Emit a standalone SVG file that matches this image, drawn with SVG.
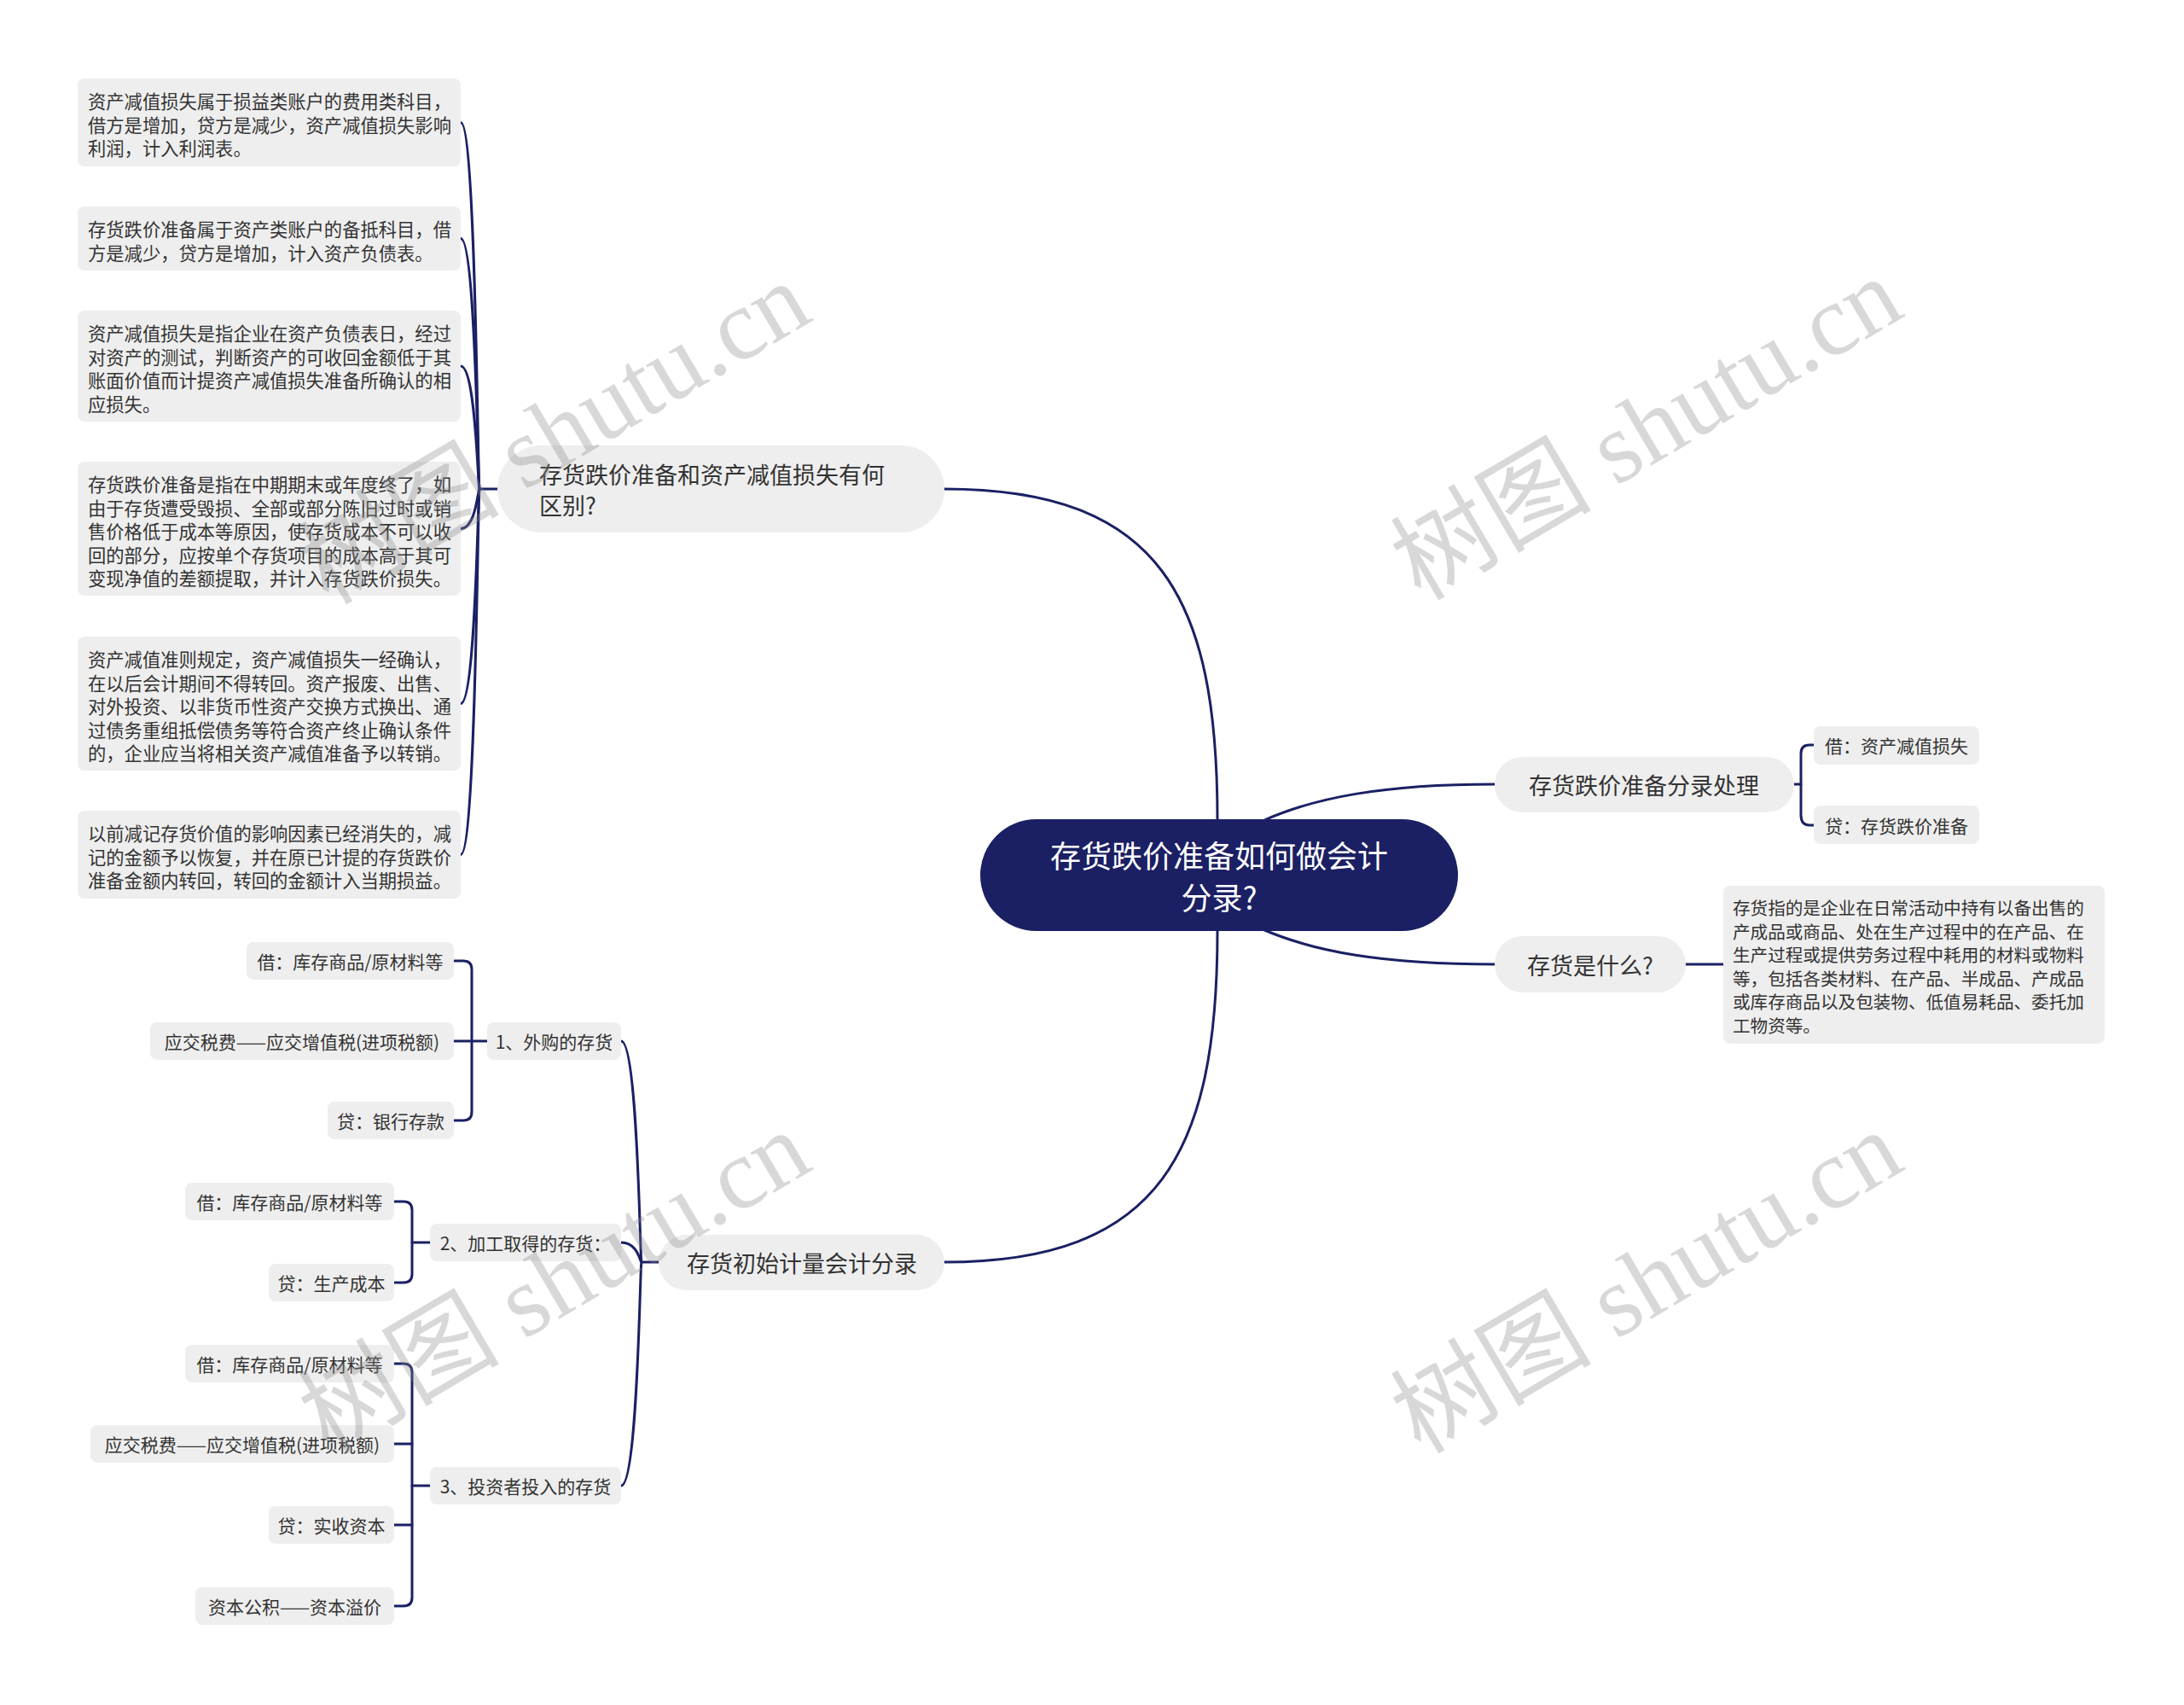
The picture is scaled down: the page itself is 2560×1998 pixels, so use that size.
<svg xmlns="http://www.w3.org/2000/svg" width="2560" height="1998" viewBox="0 0 2560 1998">
<style>
.bg{fill:#ffffff}
.ln{fill:none;stroke:#1b2064;stroke-width:3;stroke-linecap:round}
.root{fill:#1b2064}
.n2{fill:#eeeeee}
.lf{fill:#eeeeee}
.t{font-family:"Noto Sans CJK SC","Noto Sans",sans-serif;fill:#333333;dominant-baseline:central}
.rt{font-family:"Noto Sans CJK SC","Noto Sans",sans-serif;fill:#ffffff;font-size:36px;dominant-baseline:central;text-anchor:middle}
.s27{font-size:27px}
.s21{font-size:21px}
.d{font-size:21.3px}
.dr{font-size:20.6px}
.c{text-anchor:middle}
.wm{font-family:"Liberation Serif","Noto Sans CJK SC",serif;font-size:118px;fill:#888888;fill-opacity:0.33}
</style>
<rect class="bg" x="0" y="0" width="2560" height="1998"/>
<g id="connectors">
<path class="ln" d="M1427,960 C1427,700 1360,573 1107,573"/>
<path class="ln" d="M1427,1091 C1427,1350 1360,1479 1107,1479"/>
<path class="ln" d="M1480,962 C1540,935 1620,919 1752,919"/>
<path class="ln" d="M1480,1089 C1540,1115 1620,1130 1752,1130"/>
<path class="ln" d="M583,573 H562"/>
<path class="ln" d="M540,143.5 C558,143.5 560,573 562,573"/>
<path class="ln" d="M540,279.5 C558,279.5 560,573 562,573"/>
<path class="ln" d="M540,429 C558,429 560,573 562,573"/>
<path class="ln" d="M540,619.5 C558,619.5 560,573 562,573"/>
<path class="ln" d="M540,824.5 C558,824.5 560,573 562,573"/>
<path class="ln" d="M540,1001.5 C558,1001.5 560,573 562,573"/>
<path class="ln" d="M2103,919 H2111"/>
<path class="ln" d="M2126,873 H2121 Q2111,873 2111,883 V955 Q2111,967 2121,967 H2126"/>
<path class="ln" d="M1976,1130 H2020"/>
<path class="ln" d="M772,1479 H752"/>
<path class="ln" d="M728,1220 C748,1220 750,1479 752,1479"/>
<path class="ln" d="M728,1456 C748,1456 750,1479 752,1479"/>
<path class="ln" d="M728,1741 C748,1741 750,1479 752,1479"/>
<path class="ln" d="M571,1220 H532"/>
<path class="ln" d="M532,1126 H543 Q553,1126 553,1136 V1303 Q553,1313 543,1313 H532"/>
<path class="ln" d="M504,1456 H483"/>
<path class="ln" d="M462,1408 H473 Q483,1408 483,1418 V1493 Q483,1503 473,1503 H462"/>
<path class="ln" d="M504,1741 H483"/>
<path class="ln" d="M462,1598 H473 Q483,1598 483,1608 V1872 Q483,1882 473,1882 H462"/>
<path class="ln" d="M462,1692 H483"/>
<path class="ln" d="M462,1787 H483"/>
</g>
<g id="root">
<rect class="root" x="1149" y="960" width="560" height="131" rx="65.5"/>
<text class="rt" x="1429" y="1001">存货跌价准备如何做会计</text>
<text class="rt" x="1429" y="1050">分录?</text>
</g>
<g id="q1">
<rect class="n2" x="583" y="522" width="524" height="102" rx="51"/>
<text class="t s27" x="632" y="555">存货跌价准备和资产减值损失有何</text>
<text class="t s27" x="632" y="591">区别?</text>
</g>
<g id="d1">
<rect class="lf" x="91" y="92" width="449" height="103" rx="8"/>
<text class="t d" x="103"><tspan x="103" y="117">资产减值损失属于损益类账户的费用类科目，</tspan><tspan x="103" y="144.5">借方是增加，贷方是减少，资产减值损失影响</tspan><tspan x="103" y="172">利润，计入利润表。</tspan></text>
</g>
<g id="d2">
<rect class="lf" x="91" y="242" width="449" height="75" rx="8"/>
<text class="t d" x="103"><tspan x="103" y="267">存货跌价准备属于资产类账户的备抵科目，借</tspan><tspan x="103" y="294.5">方是减少，贷方是增加，计入资产负债表。</tspan></text>
</g>
<g id="d3">
<rect class="lf" x="91" y="364" width="449" height="130" rx="8"/>
<text class="t d" x="103"><tspan x="103" y="389">资产减值损失是指企业在资产负债表日，经过</tspan><tspan x="103" y="416.5">对资产的测试，判断资产的可收回金额低于其</tspan><tspan x="103" y="444">账面价值而计提资产减值损失准备所确认的相</tspan><tspan x="103" y="471.5">应损失。</tspan></text>
</g>
<g id="d4">
<rect class="lf" x="91" y="541" width="449" height="157" rx="8"/>
<text class="t d" x="103"><tspan x="103" y="566">存货跌价准备是指在中期期末或年度终了，如</tspan><tspan x="103" y="593.5">由于存货遭受毁损、全部或部分陈旧过时或销</tspan><tspan x="103" y="621">售价格低于成本等原因，使存货成本不可以收</tspan><tspan x="103" y="648.5">回的部分，应按单个存货项目的成本高于其可</tspan><tspan x="103" y="676">变现净值的差额提取，并计入存货跌价损失。</tspan></text>
</g>
<g id="d5">
<rect class="lf" x="91" y="746" width="449" height="157" rx="8"/>
<text class="t d" x="103"><tspan x="103" y="771">资产减值准则规定，资产减值损失一经确认，</tspan><tspan x="103" y="798.5">在以后会计期间不得转回。资产报废、出售、</tspan><tspan x="103" y="826">对外投资、以非货币性资产交换方式换出、通</tspan><tspan x="103" y="853.5">过债务重组抵偿债务等符合资产终止确认条件</tspan><tspan x="103" y="881">的，企业应当将相关资产减值准备予以转销。</tspan></text>
</g>
<g id="d6">
<rect class="lf" x="91" y="950" width="449" height="103" rx="8"/>
<text class="t d" x="103"><tspan x="103" y="975">以前减记存货价值的影响因素已经消失的，减</tspan><tspan x="103" y="1002.5">记的金额予以恢复，并在原已计提的存货跌价</tspan><tspan x="103" y="1030">准备金额内转回，转回的金额计入当期损益。</tspan></text>
</g>
<g id="r1">
<rect class="n2" x="1752" y="887" width="351" height="65" rx="32.5"/>
<text class="t s27 c" x="1927" y="919">存货跌价准备分录处理</text>
</g>
<g id="r1a">
<rect class="lf" x="2126" y="851" width="194" height="45" rx="8"/>
<text class="t s21 c" x="2223" y="873">借：资产减值损失</text>
</g>
<g id="r1b">
<rect class="lf" x="2126" y="944" width="194" height="45" rx="8"/>
<text class="t s21 c" x="2223" y="967">贷：存货跌价准备</text>
</g>
<g id="r2">
<rect class="n2" x="1752" y="1097" width="224" height="66" rx="33"/>
<text class="t s27 c" x="1864" y="1130">存货是什么?</text>
</g>
<g id="r2a">
<rect class="lf" x="2020" y="1038" width="447" height="185" rx="8"/>
<text class="t dr" x="2031"><tspan x="2031" y="1063">存货指的是企业在日常活动中持有以备出售的</tspan><tspan x="2031" y="1090.5">产成品或商品、处在生产过程中的在产品、在</tspan><tspan x="2031" y="1118">生产过程或提供劳务过程中耗用的材料或物料</tspan><tspan x="2031" y="1145.5">等，包括各类材料、在产品、半成品、产成品</tspan><tspan x="2031" y="1173">或库存商品以及包装物、低值易耗品、委托加</tspan><tspan x="2031" y="1200.5">工物资等。</tspan></text>
</g>
<g id="l2">
<rect class="n2" x="772" y="1447" width="335" height="65" rx="32.5"/>
<text class="t s27 c" x="940" y="1479">存货初始计量会计分录</text>
</g>
<g id="l2a">
<rect class="lf" x="571" y="1198" width="157" height="44" rx="8"/>
<text class="t s21 c" x="649.5" y="1220">1、外购的存货</text>
</g>
<g id="l2a1">
<rect class="lf" x="289" y="1104" width="243" height="44" rx="8"/>
<text class="t s21 c" x="410.5" y="1126">借：库存商品/原材料等</text>
</g>
<g id="l2a2">
<rect class="lf" x="176" y="1198" width="356" height="44" rx="8"/>
<text class="t s21 c" x="354" y="1220">应交税费——应交增值税(进项税额)</text>
</g>
<g id="l2a3">
<rect class="lf" x="384" y="1291" width="148" height="44" rx="8"/>
<text class="t s21 c" x="458" y="1313">贷：银行存款</text>
</g>
<g id="l2b">
<rect class="lf" x="504" y="1434" width="224" height="44" rx="8"/>
<text class="t s21 c" x="616" y="1456">2、加工取得的存货：</text>
</g>
<g id="l2b1">
<rect class="lf" x="217" y="1386" width="245" height="44" rx="8"/>
<text class="t s21 c" x="339.5" y="1408">借：库存商品/原材料等</text>
</g>
<g id="l2b2">
<rect class="lf" x="315" y="1481" width="147" height="44" rx="8"/>
<text class="t s21 c" x="388.5" y="1503">贷：生产成本</text>
</g>
<g id="l2c">
<rect class="lf" x="504" y="1719" width="224" height="44" rx="8"/>
<text class="t s21 c" x="616" y="1741">3、投资者投入的存货</text>
</g>
<g id="l2c1">
<rect class="lf" x="217" y="1576" width="245" height="44" rx="8"/>
<text class="t s21 c" x="339.5" y="1598">借：库存商品/原材料等</text>
</g>
<g id="l2c2">
<rect class="lf" x="106" y="1670" width="356" height="44" rx="8"/>
<text class="t s21 c" x="284" y="1692">应交税费——应交增值税(进项税额)</text>
</g>
<g id="l2c3">
<rect class="lf" x="315" y="1765" width="147" height="44" rx="8"/>
<text class="t s21 c" x="388.5" y="1787">贷：实收资本</text>
</g>
<g id="l2c4">
<rect class="lf" x="229" y="1860" width="233" height="44" rx="8"/>
<text class="t s21 c" x="345.5" y="1882">资本公积——资本溢价</text>
</g>
<g id="watermarks">
<text class="wm" x="385" y="710" transform="rotate(-30.5 385 710)">树图 shutu.cn</text>
<text class="wm" x="1665" y="705" transform="rotate(-30.5 1665 705)">树图 shutu.cn</text>
<text class="wm" x="385" y="1705" transform="rotate(-30.5 385 1705)">树图 shutu.cn</text>
<text class="wm" x="1665" y="1705" transform="rotate(-30.5 1665 1705)">树图 shutu.cn</text>
</g>
</svg>
